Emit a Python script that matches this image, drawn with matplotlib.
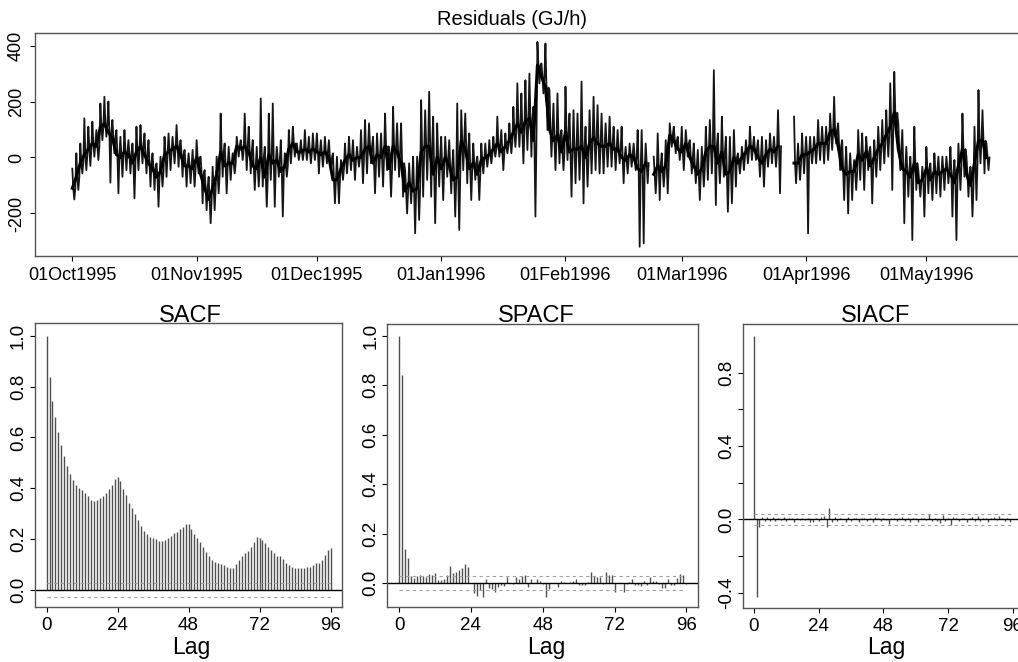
import numpy as np
import matplotlib
matplotlib.use("Agg")
import matplotlib.pyplot as plt

plt.rcParams['font.family'] = ['Liberation Sans', 'DejaVu Sans']

# hourly residuals (GJ/h) summarised per day, day 0 = 01Oct1995:
# daily high, daily low and the level of the dense core
nan = np.nan
day_hi = [-40, 15, 50, 140, 110, 128, 98, 193, 217, 200,
          134, 98, 74, 98, 62, 50, 110, 116, 86, 62,
          15, -21, 3, 74, 86, 74, 116, 62, 27, 15,
          27, 62, 3, -45, -69, -33, 3, 157, 50, 38,
          15, 74, 62, 157, 110, 62, 38, 211, 38, 157,
          193, 38, 62, 15, 98, 110, 50, 62, 98, 74,
          86, 86, 62, 74, 62, 15, 3, -9, 50, 74,
          62, 38, 98, 134, 122, 74, 86, 86, 157, 38,
          181, 122, 122, -45, -21, 3, 3, 205, 169, 235,
          146, 122, 74, 74, 62, 27, 193, 169, 157, 86,
          50, 3, 50, 50, 62, 74, 146, 98, 86, 122,
          181, 265, 229, 276, 300, 181, 413, 336, 407, 241,
          193, 229, 98, 253, 157, 169, 157, 271, 110, 169,
          217, 187, 157, 122, 146, 110, 98, 110, 38, 50,
          50, 98, 98, 50, nan, 3, 86, 15, 62, 122,
          110, 74, 110, 98, 62, 50, 27, 38, 110, 134,
          312, 86, 146, 74, 74, 98, 15, 38, 62, 110,
          74, 62, 74, 62, 86, 74, 169, nan, nan, nan,
          146, 50, 86, 74, 74, 74, 134, 110, 110, 157,
          217, 122, 62, 38, 15, -9, 98, 86, 74, 38,
          62, 110, 134, 169, 265, 306, 122, 98, 38, 3,
          110, -45, -33, 38, -21, 15, 3, 3, 3, 38,
          -9, 50, 157, 3, -33, 110, 241, 169, 50]
day_lo = [-150, -116, -57, -45, -30, 3, -9, 62, 74, -90,
          15, -128, -69, -45, -57, -146, -45, -21, -57, -104,
          -116, -176, -104, -69, -45, -21, -33, -69, -104, -92,
          -104, -57, -164, -188, -235, -188, -128, -69, -128, -80,
          -57, 3, -9, -45, -57, -116, -104, -104, -176, -80,
          -176, -69, -211, -69, -21, 3, -9, -9, -9, -21,
          -9, -57, -33, -21, -45, -164, -164, -80, -57, -45,
          -80, -33, -92, -57, -21, -128, -69, -104, -45, -140,
          -45, -69, -140, -200, -164, -271, -223, -140, -80, -140,
          -235, -104, -152, -69, -128, -211, -259, -45, -92, -152,
          -80, -152, -57, -33, -21, 3, 3, -45, 15, 15,
          38, 38, -21, 27, 3, -211, 265, 229, 98, 3,
          -45, -21, -45, -9, -140, -92, -80, -164, -104, -57,
          -45, -57, -57, -33, -33, -45, -21, -92, -57, -33,
          -45, -319, -307, -92, nan, -128, -152, -104, -128, 38,
          15, -9, -45, 3, -57, -92, -152, -104, -80, -57,
          -170, -92, -69, -194, -164, -104, -57, -45, -21, -9,
          -9, -69, -104, -33, -21, -33, -128, nan, nan, nan,
          -92, -80, -57, -271, -21, -21, -9, -21, -9, 27,
          50, -45, -152, -200, -152, -116, -80, -116, -45, -164,
          -69, -45, -21, 3, -116, 98, -45, -235, -140, -295,
          -116, -140, -211, -128, -152, -128, -140, -116, -92, -211,
          -295, -116, -69, -140, -211, -152, -21, -57, -45]
day_level = [-110, -70, -20, 10, 30, 50, 40, 110, 120, 90,
             70, 10, 0, 20, 10, -20, 20, 40, 10, -20,
             -40, -70, -50, 10, 20, 30, 40, 10, -30, -30,
             -40, 0, -60, -110, -150, -110, -60, 20, -30, -20,
             -20, 40, 30, 40, 20, -30, -40, 0, -70, 10,
             -20, -10, -50, -30, 30, 50, 20, 20, 30, 20,
             30, 20, 10, 20, 0, -80, -80, -40, -10, 10,
             -10, 0, 0, 30, 40, -20, 10, 0, 40, -40,
             40, 20, -20, -120, -90, -120, -110, 20, 40, 40,
             -60, 0, -40, 0, -30, -80, -70, 60, 30, -40,
             -20, -60, -10, 0, 10, 30, 50, 20, 40, 60,
             90, 120, 90, 130, 140, 60, 330, 290, 250, 100,
             60, 80, 20, 90, 20, 30, 30, 40, 0, 50,
             70, 50, 40, 40, 50, 30, 30, 0, -10, 10,
             0, -40, -50, -20, nan, -60, -30, -50, -30, 80,
             60, 30, 20, 50, 0, -30, -60, -40, 20, 40,
             40, -20, 20, -60, -50, 0, -20, 0, 20, 40,
             30, 0, -20, 10, 30, 20, 40, nan, nan, nan,
             -20, -20, 10, 10, 20, 30, 50, 50, 50, 90,
             100, 40, -40, -60, -50, -50, 10, -10, 20, -30,
             0, 30, 50, 80, 110, 160, 30, -40, -50, -70,
             -20, -90, -80, -40, -80, -50, -60, -50, -40, -60,
             -90, -30, 30, -60, -100, -20, 60, 60, 0]

month_labels = ['01Oct1995', '01Nov1995', '01Dec1995', '01Jan1996',
                '01Feb1996', '01Mar1996', '01Apr1996', '01May1996']
month_dates = ['1995-10-01', '1995-11-01', '1995-12-01', '1996-01-01',
               '1996-02-01', '1996-03-01', '1996-04-01', '1996-05-01']

lags = np.arange(97)
sacf = [1.0, 0.839, 0.743, 0.681, 0.623, 0.570, 0.527, 0.488, 0.456, 0.432,
        0.415, 0.400, 0.393, 0.380, 0.370, 0.356, 0.350, 0.356, 0.363, 0.370,
        0.380, 0.396, 0.415, 0.436, 0.443, 0.427, 0.396, 0.373, 0.343, 0.321,
        0.299, 0.275, 0.252, 0.233, 0.219, 0.207, 0.203, 0.199, 0.194, 0.193,
        0.197, 0.203, 0.212, 0.223, 0.229, 0.239, 0.249, 0.260, 0.260, 0.239,
        0.219, 0.203, 0.187, 0.168, 0.151, 0.134, 0.118, 0.111, 0.107, 0.102,
        0.097, 0.092, 0.088, 0.088, 0.102, 0.118, 0.134, 0.144, 0.155, 0.170,
        0.190, 0.210, 0.203, 0.197, 0.186, 0.170, 0.157, 0.144, 0.135, 0.134,
        0.121, 0.107, 0.097, 0.092, 0.088, 0.088, 0.088, 0.088, 0.089, 0.089,
        0.098, 0.105, 0.107, 0.118, 0.138, 0.157, 0.164]
spacf = [1.0, 0.841, 0.137, 0.101, 0.030, 0.020, 0.030, 0.034, 0.030, 0.027,
         0.038, 0.032, 0.043, 0.013, 0.013, 0.016, 0.034, 0.070, 0.040, 0.047,
         0.054, 0.061, 0.077, 0.067, 0.003, -0.040, -0.051, -0.027, -0.057, 0.016,
         -0.020, -0.024, -0.034, -0.013, -0.008, -0.010, 0.024, 0.003, -0.003, 0.027,
         0.016, 0.030, 0.035, -0.013, 0.016, 0.003, 0.016, 0.011, -0.003, -0.057,
         -0.024, 0.003, 0.000, -0.016, 0.008, 0.005, 0.003, 0.007, 0.011, 0.016,
         -0.008, -0.005, -0.008, 0.005, 0.047, 0.030, 0.027, 0.024, -0.003, 0.044,
         0.034, 0.032, -0.034, 0.003, 0.000, -0.034, -0.003, 0.007, 0.016, -0.007,
         -0.005, -0.009, 0.011, -0.008, 0.027, 0.008, 0.011, -0.003, -0.020, -0.020,
         0.016, -0.005, -0.005, 0.020, 0.038, 0.035, -0.003]
siacf = [1.0, -0.422, -0.040, 0.012, -0.010, 0.015, -0.008, 0.012, -0.010, 0.010,
         -0.005, 0.012, -0.008, 0.010, 0.005, -0.012, 0.008, -0.006, 0.010, -0.005,
         0.006, -0.015, -0.012, 0.010, -0.010, 0.012, 0.018, -0.040, 0.060, -0.015,
         0.012, -0.008, 0.010, 0.004, -0.012, 0.015, -0.008, 0.010, 0.006, -0.012,
         0.008, 0.010, -0.008, 0.005, -0.015, 0.012, 0.006, -0.010, 0.010, -0.006,
         -0.025, 0.010, 0.008, -0.008, 0.010, 0.014, -0.010, 0.008, -0.015, 0.010,
         0.005, -0.012, 0.008, 0.010, -0.006, 0.028, -0.010, 0.008, -0.008, -0.020,
         0.025, -0.010, 0.010, -0.030, 0.012, 0.010, -0.010, 0.008, 0.010, -0.012,
         0.006, 0.012, -0.010, 0.020, -0.008, 0.010, 0.006, -0.012, 0.010, 0.015,
         -0.006, 0.018, 0.010, -0.008, 0.005, -0.015, 0.004]
conf = 0.028

spine_col = '#555555'
bar_col = '#505050'


def style_axes(ax):
    for s in ax.spines.values():
        s.set_color(spine_col)
        s.set_linewidth(1.0)
    ax.tick_params(colors='black', length=3.6, width=0.8)
    for t in ax.xaxis.get_ticklines() + ax.yaxis.get_ticklines():
        t.set_color(spine_col)


fig = plt.figure(figsize=(10.18, 6.62), dpi=100)

# ---- top panel: residual series ----
ax = fig.add_axes([0.0344, 0.6133, 0.9705, 0.3369])
xs, ys = [], []
for d, (h, m, l) in enumerate(zip(day_hi, day_level, day_lo)):
    xs += [d, d + 0.25, d + 0.5, d + 0.75]
    ys += [h, m, l, m]
ax.plot(xs, ys, color='#151515', lw=1.3)
ax.plot(np.arange(len(day_level)), day_level, color='black', lw=2.2)
start = np.datetime64('1995-10-01')
month_pos = [(np.datetime64(m) - start).astype(int) for m in month_dates]
ax.set_xticks(month_pos)
ax.set_xticklabels(month_labels, fontsize=13)
ax.set_yticks([-200, 0, 200, 400])
ax.set_yticklabels(['-200', '0', '200', '400'], fontsize=13, rotation=90, va='center')
ax.set_xlim(-9.3, 237.1)
ax.set_ylim(-352, 445)
style_axes(ax)
ax.tick_params(axis='x', pad=4.3)
ax.tick_params(axis='y', pad=3.6)
fig.text(0.5027, 0.9622, 'Residuals (GJ/h)', ha='center', va='baseline', fontsize=14.5)


def acf_panel(rect, vals, ylim, yticks, ylabels, title, tx, lx):
    a = fig.add_axes(rect)
    a.vlines(lags, 0, vals, color=bar_col, lw=1.0)
    a.axhline(0, color='black', lw=1.0)
    a.hlines([conf, -conf], 0, 96, color='#a0a0a0', lw=0.8, ls=(0, (3, 3)))
    a.set_xlim(-3.9, 99.8)
    a.set_ylim(*ylim)
    a.set_xticks([0, 24, 48, 72, 96])
    a.set_xticklabels(['0', '24', '48', '72', '96'], fontsize=13.5)
    a.set_yticks(yticks)
    a.set_yticklabels(ylabels, fontsize=13.5, rotation=90, va='center')
    style_axes(a)
    a.tick_params(axis='x', pad=3.5)
    a.tick_params(axis='y', pad=2.2)
    fig.text(tx, 0.514, title, ha='center', va='baseline', fontsize=17)
    fig.text(lx, 0.0125, 'Lag', ha='center', va='baseline', fontsize=16.5)
    return a


t01 = [0.0, 0.2, 0.4, 0.6, 0.8, 1.0]
l01 = ['0.0', '0.2', '0.4', '0.6', '0.8', '1.0']
acf_panel([0.0344, 0.0826, 0.3013, 0.4290], sacf, (-0.068, 1.049), t01, l01,
          'SACF', 0.1866, 0.1883)
acf_panel([0.3805, 0.0826, 0.3049, 0.4280], spacf, (-0.097, 1.047), t01, l01,
          'SPACF', 0.5272, 0.5370)
acf_panel([0.7302, 0.0811, 0.2747, 0.4290], siacf, (-0.485, 1.064),
          [-0.4, -0.2, 0.0, 0.2, 0.4, 0.6, 0.8],
          ['-0.4', '', '0.0', '', '0.4', '', '0.8'],
          'SIACF', 0.8605, 0.8710)

fig.savefig('out.png', dpi=100)
